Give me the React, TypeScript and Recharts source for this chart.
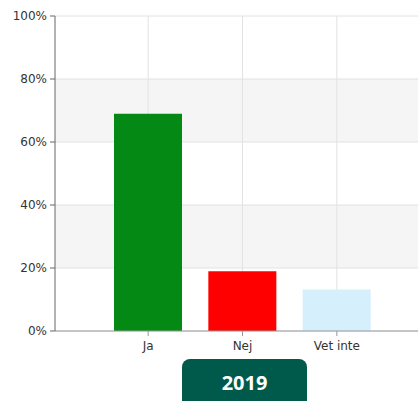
import {Bar, BarChart, CartesianGrid, Cell, XAxis, YAxis} from 'recharts';

const categories = ['Ja', 'Nej', 'Vet inte'];
const shares = [69, 19, 13.2];
const barColors = ['#048a14', '#ff0000', '#d6effd'];
const yTicks = [0, 20, 40, 60, 80, 100];
const yearLabel = '2019';

const data = categories.map((name, i) => ({name, value: shares[i]}));

const tickStyle = {fontSize: 12, fill: '#333', fontFamily: 'DejaVu Sans, Verdana, sans-serif'};

export default function App() {
  return (
    <div style={{position: 'absolute', left: 0, top: 0, width: 418, height: 401, overflow: 'hidden', background: '#fff'}}>
      <BarChart width={440} height={360} data={data} margin={{top: 16, right: 0, bottom: 0, left: 0}}>
        <CartesianGrid stroke="#e2e2e2" horizontalFill={['#ffffff', '#f5f5f5']} syncWithTicks />
        <XAxis
          dataKey="name"
          height={29}
          padding={{left: 46, right: 56}}
          tick={tickStyle}
          tickSize={5}
          tickMargin={5}
          stroke="#999"
        />
        <YAxis
          width={55}
          domain={[0, 100]}
          ticks={yTicks}
          tickFormatter={(v) => `${v}%`}
          tick={tickStyle}
          tickSize={5}
          tickMargin={3}
          stroke="#666"
        />
        <Bar dataKey="value" barSize={68} isAnimationActive={false}>
          {data.map((d, i) => (
            <Cell key={d.name} fill={barColors[i]} />
          ))}
        </Bar>
      </BarChart>
      <div
        style={{
          position: 'absolute',
          left: 182,
          top: 359,
          width: 125,
          height: 50,
          background: '#005a4b',
          borderRadius: 8,
          color: '#fff',
          fontFamily: 'Open Sans, sans-serif',
          fontWeight: 700,
          fontSize: 20,
          textAlign: 'center',
          paddingTop: 10,
          boxSizing: 'border-box',
        }}
      >
        {yearLabel}
      </div>
    </div>
  );
}
